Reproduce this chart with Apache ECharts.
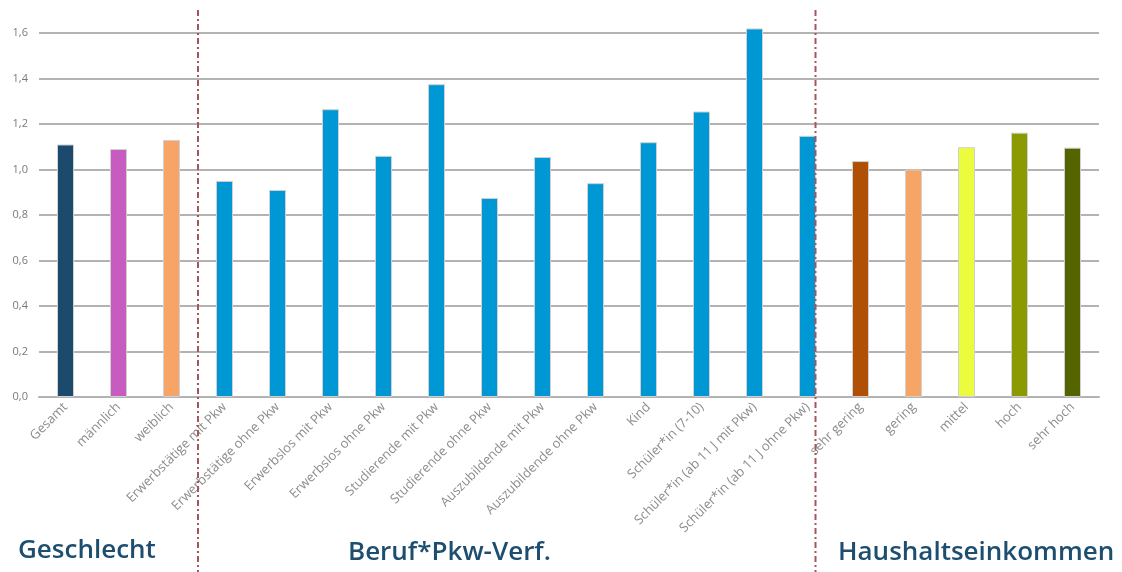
<!DOCTYPE html>
<html>
<head>
<meta charset="utf-8">
<script src="https://cdn.jsdelivr.net/npm/echarts@6/dist/echarts.min.js"></script>
<style>
	html, body { margin: 0; padding: 0; background: #fff; }
	#main { width: 1122px; height: 572px; }
</style>
</head>
<body>
<div id="main"></div>
<script>
var categories = ['Gesamt', 'männlich', 'weiblich',
	'Erwerbstätige mit Pkw', 'Erwerbstätige ohne Pkw', 'Erwerbslos mit Pkw', 'Erwerbslos ohne Pkw',
	'Studierende mit Pkw', 'Studierende ohne Pkw', 'Auszubildende mit Pkw', 'Auszubildende ohne Pkw',
	'Kind', 'Schüler*in (7-10)', 'Schüler*in (ab 11 J mit Pkw)', 'Schüler*in (ab 11 J ohne Pkw)',
	'sehr gering', 'gering', 'mittel', 'hoch', 'sehr hoch'];
var values = [1.11, 1.09, 1.13,
	0.95, 0.91, 1.265, 1.06,
	1.375, 0.875, 1.055, 0.94,
	1.12, 1.255, 1.62, 1.148,
	1.037, 1.0, 1.098, 1.162, 1.096];
var barColors = ['#1b4a6d', '#c75bbf', '#f7a467',
	'#0098d4', '#0098d4', '#0098d4', '#0098d4',
	'#0098d4', '#0098d4', '#0098d4', '#0098d4',
	'#0098d4', '#0098d4', '#0098d4', '#0098d4',
	'#b04f06', '#f7a467', '#ebfc3f', '#8a9a00', '#566400'];
var groupTitles = ['Geschlecht', 'Beruf*Pkw-Verf.', 'Haushaltseinkommen'];
var yTicks = [0, 0.2, 0.4, 0.6, 0.8, 1.0, 1.2, 1.4, 1.6];

var myChart = echarts.init(document.getElementById('main'));

var barData = [];
for (var i = 0; i < values.length; i++) {
	barData.push({
		value: values[i],
		itemStyle: { color: barColors[i] }
	});
}

function fmt(v) {
	return v.toFixed(1).replace('.', ',');
}

var option = {
	backgroundColor: '#fff',
	animation: false,
	grid: {
		left: 39,
		right: 23,
		top: 33,
		bottom: 175,
		containLabel: false
	},
	xAxis: {
		type: 'category',
		data: categories,
		axisTick: { show: false },
		axisLine: { lineStyle: { color: '#b3b3b3', width: 2 } },
		axisLabel: {
			rotate: 45,
			interval: 0,
			margin: 8,
			color: '#8c8c8c',
			fontSize: 13,
			fontFamily: 'Open Sans'
		}
	},
	yAxis: {
		type: 'value',
		min: yTicks[0],
		max: yTicks[yTicks.length - 1],
		interval: 0.2,
		axisLine: { show: false },
		axisTick: { show: false },
		axisLabel: {
			color: '#7a7a7a',
			fontSize: 11,
			margin: 11,
			fontFamily: 'Open Sans',
			formatter: fmt
		},
		splitLine: { lineStyle: { color: '#b3b3b3', width: 2 } }
	},
	series: [
		{
			type: 'bar',
			barWidth: 17,
			clip: false,
			data: barData,
			itemStyle: { borderColor: '#d0d0d0', borderWidth: 1 }
		}
	]
};

myChart.setOption(option);

// separators and group titles placed from the axis scale
var titleFont = { fontSize: 26, fontWeight: 600, fontFamily: 'Open Sans', fill: '#1d4e70' };
var sep1 = (myChart.convertToPixel({ xAxisIndex: 0 }, 2) + myChart.convertToPixel({ xAxisIndex: 0 }, 3)) / 2;
var sep2 = myChart.convertToPixel({ xAxisIndex: 0 }, 14) + 8;
var sepStyle = { stroke: '#a5555c', lineWidth: 2, lineDash: [6, 3, 2, 3] };

myChart.setOption({
	graphic: [
		{ type: 'line', shape: { x1: sep1, y1: 10, x2: sep1, y2: 572 }, style: sepStyle, z: 10 },
		{ type: 'line', shape: { x1: sep2, y1: 10, x2: sep2, y2: 572 }, style: sepStyle, z: 10 },
		{ type: 'text', left: 18, top: 538, style: Object.assign({ text: groupTitles[0] }, titleFont) },
		{ type: 'text', left: 348, top: 540, style: Object.assign({ text: groupTitles[1] }, titleFont) },
		{ type: 'text', left: 838, top: 540, style: Object.assign({ text: groupTitles[2] }, titleFont) }
	]
});
</script>
</body>
</html>
